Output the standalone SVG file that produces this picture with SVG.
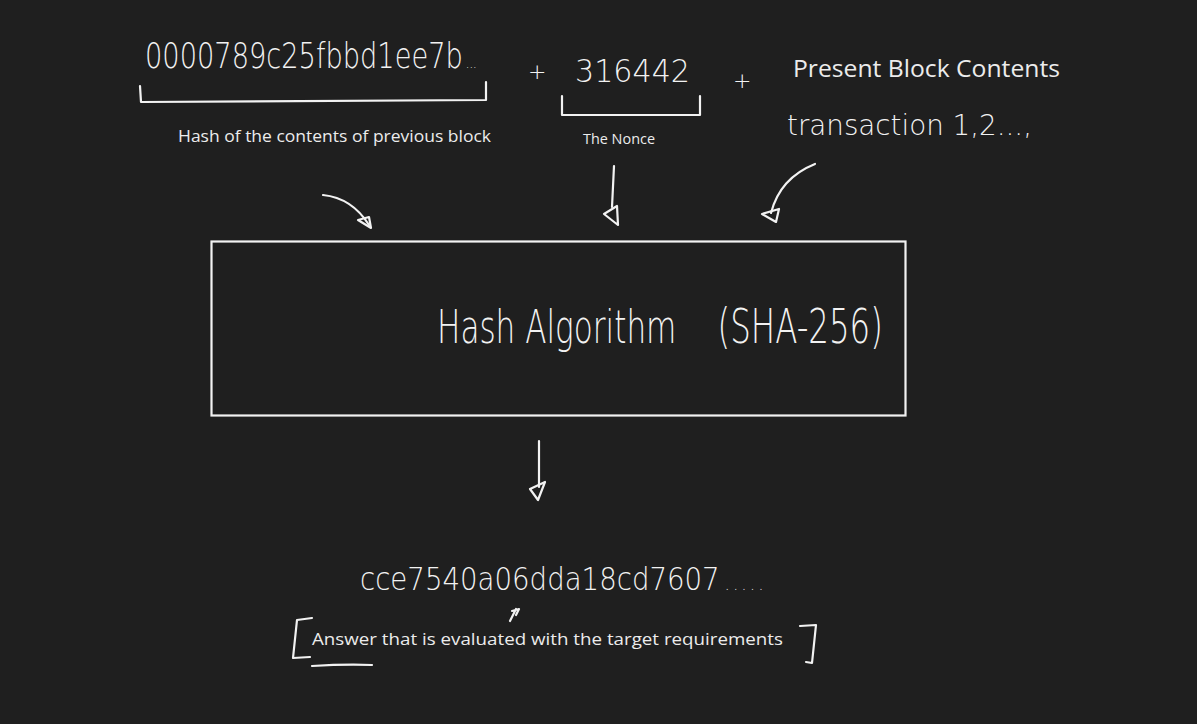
<svg xmlns="http://www.w3.org/2000/svg" width="1197" height="724" viewBox="0 0 1197 724">
<style>
.hand{font-family:"DejaVu Sans","Liberation Sans",sans-serif;font-weight:200;fill:#f2f2f2}
.lbl{font-family:"Open Sans","Lato","Liberation Sans",sans-serif;fill:#ececec}
.ln{fill:none;stroke:#f2f2f2;stroke-width:2.2;stroke-linecap:round;stroke-linejoin:round}
</style>
<rect width="1197" height="724" fill="#1f1f1f"/>
<g id="prev-hash">
<text class="hand" transform="translate(145,68) scale(0.757,1)" x="0" y="0" font-size="36">0000789c25fbbd1ee7b<tspan font-size="15" dx="4">...</tspan></text>
<path class="ln" d="M140 86 L141 102 L486 100 L486 82"/>
<text class="lbl" x="178" y="142" font-size="17" textLength="313" lengthAdjust="spacingAndGlyphs">Hash of the contents of previous block</text>
</g>
<g id="plus1"><text class="hand" x="528" y="79" font-size="22">+</text></g>
<g id="nonce">
<text class="hand" x="575" y="82" font-size="32" textLength="115" lengthAdjust="spacingAndGlyphs">316442</text>
<path class="ln" d="M562 96 L562 115 L700 115 L700 96"/>
<text class="lbl" x="583" y="144" font-size="14" textLength="72" lengthAdjust="spacingAndGlyphs">The Nonce</text>
</g>
<g id="plus2"><text class="hand" x="733" y="88" font-size="22">+</text></g>
<g id="present">
<text class="lbl" x="793" y="77" font-size="23" textLength="267" lengthAdjust="spacingAndGlyphs">Present Block Contents</text>
<text class="hand" x="787" y="135" font-size="28" textLength="245" lengthAdjust="spacingAndGlyphs">transaction 1,2...,</text>
</g>
<g id="connectors">
<path class="ln" d="M323 195 Q352 198 369 225"/>
<path class="ln" d="M358 220 L369 217 L371 228 Z"/>
<path class="ln" d="M614 166 L612 207"/>
<path class="ln" d="M604 214 L617 206 L618 225 Z"/>
<path class="ln" d="M815 164 Q780 178 771 213"/>
<path class="ln" d="M762 214 L779 209 L776 222 Z"/>
<path class="ln" d="M539 441 L539 487"/>
<path class="ln" d="M530 489 L545 482 L538 500 Z"/>
<path class="ln" d="M510 621 L516 609 M512 611 L519 609 L516 615"/>
</g>
<g id="hash-algorithm">
<rect x="211.5" y="241.5" width="694" height="174" fill="none" stroke="#f2f2f2" stroke-width="2.2"/>
<text class="hand" transform="translate(437,343) scale(0.676,1)" x="0" y="0" font-size="46">Hash Algorithm<tspan x="415" font-size="48">(SHA-256)</tspan></text>
</g>
<g id="result">
<text class="hand" transform="translate(360,590) scale(0.863,1)" x="0" y="0" font-size="32">cce7540a06dda18cd7607<tspan font-size="18" dx="6" letter-spacing="4">.....</tspan></text>
<path class="ln" d="M312 618 L297 620 L293 658 L310 657"/>
<path class="ln" d="M312 666 Q345 664 372 665"/>
<path class="ln" d="M800 626 L816 625 L812 663 L806 662"/>
<text class="lbl" x="312" y="645" font-size="17" textLength="471" lengthAdjust="spacingAndGlyphs">Answer that is evaluated with the target requirements</text>
</g>
</svg>
